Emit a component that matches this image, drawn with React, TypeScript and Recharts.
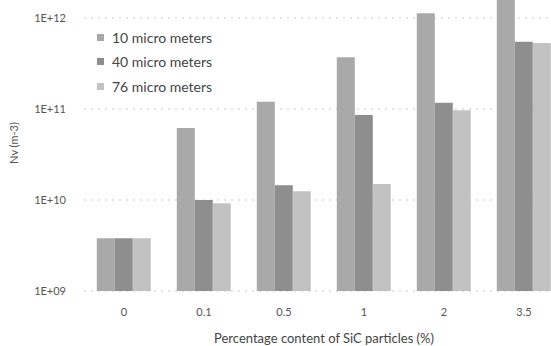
import React from 'react'
import { BarChart, Bar, XAxis, YAxis, CartesianGrid, Label } from 'recharts'

const categories = ['0', '0.1', '0.5', '1', '2', '3.5']
const micro10 = [3.8e9, 6.2e10, 1.2e11, 3.7e11, 1.13e12, 2.0e12]
const micro40 = [3.8e9, 1.0e10, 1.45e10, 8.6e10, 1.17e11, 5.5e11]
const micro76 = [3.8e9, 9.2e9, 1.25e10, 1.5e10, 9.7e10, 5.3e11]
const yTicks = [1e9, 1e10, 1e11, 1e12]

const seriesNames = ['10 micro meters', '40 micro meters', '76 micro meters']
const COLORS = ['#a9a9a9', '#8e8e8e', '#c2c2c2']

const data = categories.map((c, i) => ({
  name: c,
  m10: micro10[i],
  m40: micro40[i],
  m76: micro76[i]
}))

const FONT = 'Lato, "Open Sans", sans-serif'
// chart is taller than the page: the decade above 1E+12 sits above the visible area
const OFFSET = 80

if (typeof document !== 'undefined') document.body.style.margin = '0'

const fmtTick = (v: number) => {
  const exp = Math.round(Math.log10(v))
  return `1E+${String(exp).padStart(2, '0')}`
}

function LegendBox() {
  return (
    <div style={{ position: 'absolute', left: 97, top: 25, fontFamily: FONT, fontSize: 14, color: '#444' }}>
      {seriesNames.map((n, i) => (
        <div key={n} style={{ display: 'flex', alignItems: 'center', height: 24.5 }}>
          <span style={{ width: 7, height: 7, background: COLORS[i], marginRight: 8, display: 'inline-block' }} />
          <span>{n}</span>
        </div>
      ))}
    </div>
  )
}

export default function App() {
  return (
    <div style={{ width: 551, height: 346, overflow: 'hidden', background: '#fff', position: 'relative' }}>
      <div style={{ marginTop: -OFFSET }}>
        <BarChart
          width={600}
          height={346 + OFFSET}
          data={data}
          margin={{ top: 7, right: 36, left: 0, bottom: 0 }}
          barCategoryGap="16%"
          barGap={0}
        >
          <CartesianGrid vertical={false} stroke="#c8c8c8" strokeDasharray="2 5" />
          <XAxis
            dataKey="name"
            axisLine={false}
            tickLine={false}
            tickSize={0}
            tickMargin={17}
            height={55}
            tick={{ fontSize: 11, fill: '#555', fontFamily: FONT }}
          >
            <Label
              value="Percentage content of SiC particles (%)"
              position="insideBottom"
              offset={3}
              style={{ fontSize: 13, fill: '#444', fontFamily: FONT }}
            />
          </XAxis>
          <YAxis
            scale="log"
            domain={[1e9, 1e13]}
            ticks={yTicks}
            allowDataOverflow
            tickFormatter={fmtTick}
            axisLine={false}
            tickLine={false}
            tickSize={0}
            tickMargin={18}
            width={84}
            tick={{ fontSize: 11, fill: '#555', fontFamily: FONT }}
          >
            <Label
              content={() => (
                <text
                  x={18}
                  y={143 + OFFSET}
                  transform={`rotate(-90, 18, ${143 + OFFSET})`}
                  textAnchor="middle"
                  style={{ fontSize: 11, fill: '#555', fontFamily: FONT }}
                >
                  Nv (m-3)
                </text>
              )}
            />
          </YAxis>
          <Bar dataKey="m10" name={seriesNames[0]} fill={COLORS[0]} isAnimationActive={false} />
          <Bar dataKey="m40" name={seriesNames[1]} fill={COLORS[1]} isAnimationActive={false} />
          <Bar dataKey="m76" name={seriesNames[2]} fill={COLORS[2]} isAnimationActive={false} />
        </BarChart>
      </div>
      <LegendBox />
    </div>
  )
}
